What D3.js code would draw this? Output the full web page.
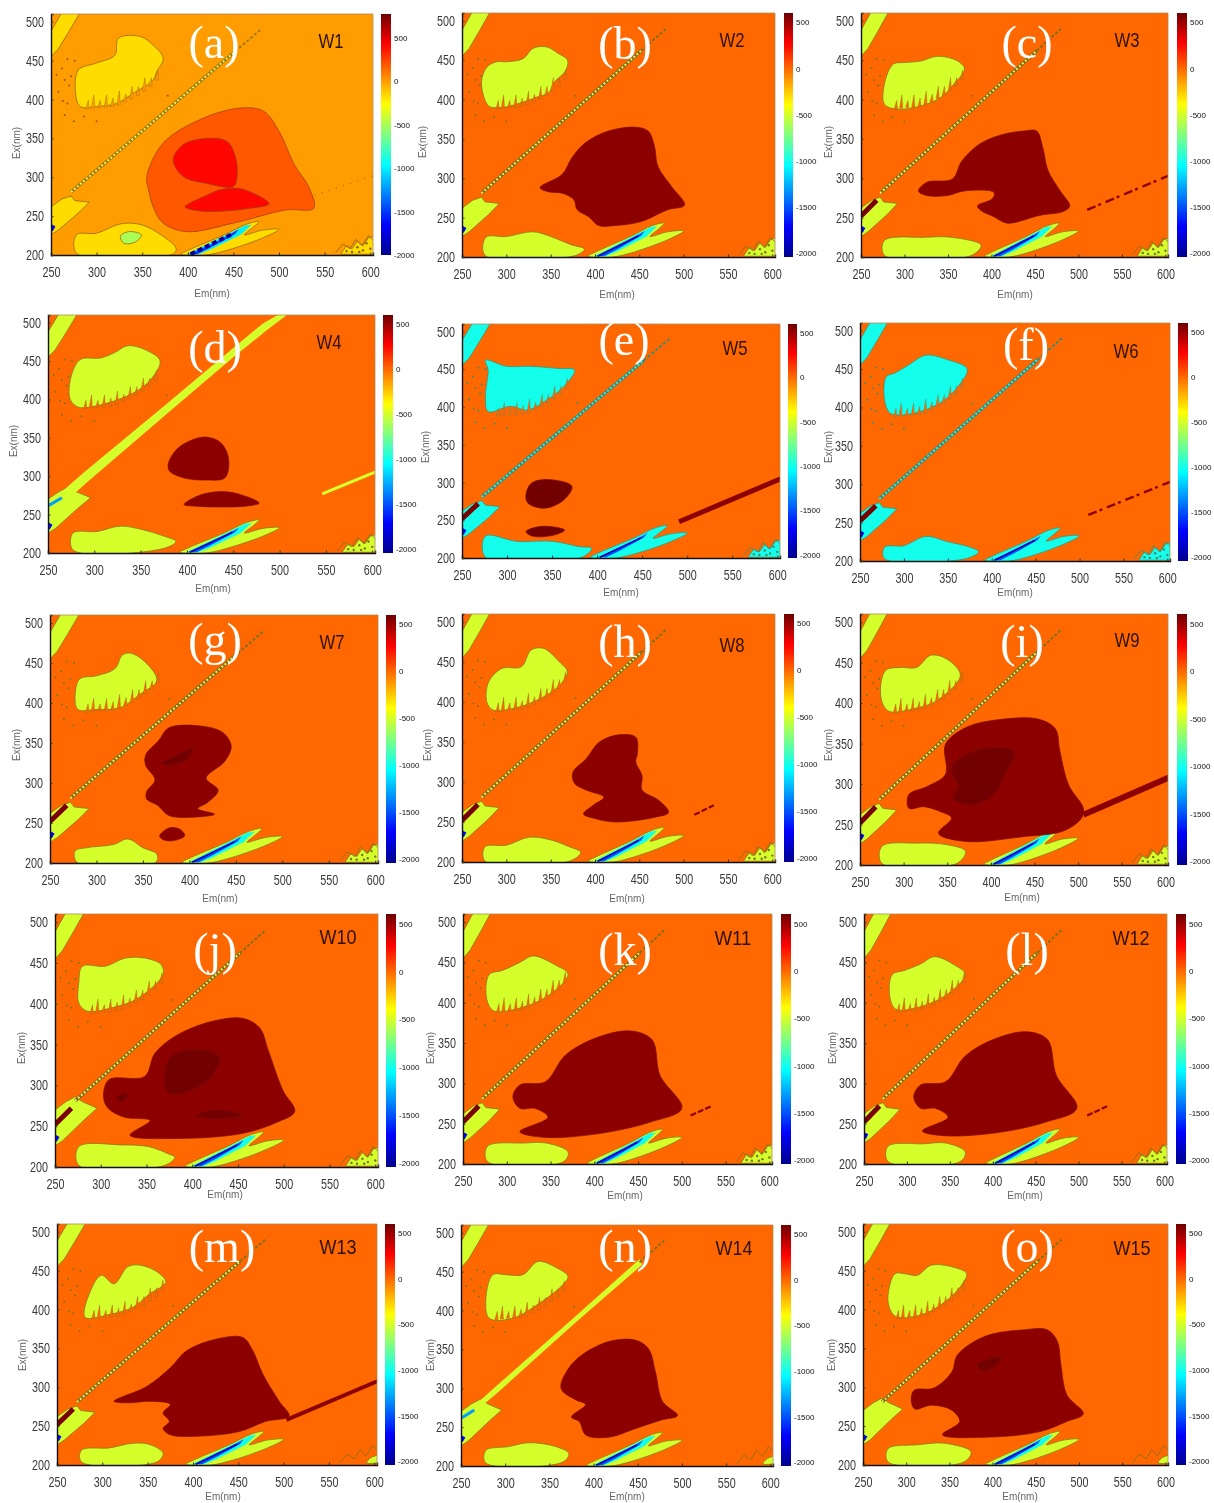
<!DOCTYPE html>
<html><head><meta charset="utf-8">
<script src="https://cdn.jsdelivr.net/npm/d3@7/dist/d3.min.js"></script>
<style>html,body{margin:0;background:#fff}svg{display:block;filter:blur(0.65px)}</style>
</head><body><svg id="c" width="1214" height="1503"></svg>
<script>
const xTicks=[250,300,350,400,450,500,550,600], yTicks=[200,250,300,350,400,450,500], cbTicks=[500,0,-500,-1000,-1500,-2000];
const jetStops=[0,.125,.375,.625,.875,1], jetColors=["#00008f","#0000ff","#00ffff","#ffff00","#ff0000","#6e0000"];
const names=["W1","W2","W3","W4","W5","W6","W7","W8","W9","W10","W11","W12","W13","W14","W15"];
const letters=["(a)","(b)","(c)","(d)","(e)","(f)","(g)","(h)","(i)","(j)","(k)","(l)","(m)","(n)","(o)"];
// Excitation/emission contours, each listed as [Em, Ex]
const upperW1=[[324,479],[348,481],[362,470],[373,453],[366,436],[362,425],[340,408],[322,395],[300,391],[282,391],[277,408],[280,438],[300,447],[320,457]];
const upperW2=[[278,441],[272,422],[280,392],[293,390],[308,393],[334,403],[348,409],[354,422],[367,437],[369,450],[358,459],[345,467],[330,465],[319,452],[300,448],[289,448]];
const upperW3=[[287,445],[277,420],[277,394],[291,388],[319,392],[342,403],[357,420],[369,439],[361,449],[338,455],[319,449],[300,447]];
const upperW4=[[285,452],[275,430],[274,400],[283,390],[307,393],[343,409],[361,426],[371,450],[358,463],[336,470],[322,461],[307,454]];
const upperW5=[[276,462],[279,449],[276,414],[279,394],[304,401],[323,396],[345,410],[363,427],[375,449],[358,451],[325,454],[299,454]];
const upperW6=[[280,440],[278,410],[285,392],[310,392],[340,405],[360,425],[372,450],[350,462],[325,468],[305,455],[290,445]];
const upperW7=[[282,430],[277,407],[280,392],[300,392],[325,394],[347,411],[365,428],[356,447],[338,462],[328,460],[320,443],[300,434]];
const upperW8=[[280,425],[278,400],[285,390],[308,392],[334,402],[356,417],[369,437],[360,450],[342,467],[328,465],[317,444],[295,442]];
const upperW9=[[279,440],[274,407],[283,390],[315,394],[338,403],[365,434],[350,454],[331,459],[315,444],[296,444]];
const upperW10=[[280,446],[276,425],[276,401],[285,391],[312,395],[341,407],[368,436],[366,448],[348,456],[327,456],[305,446]];
const upperW11=[[280,435],[277,405],[285,390],[310,392],[345,407],[370,435],[355,447],[330,458],[315,450],[295,440]];
const upperW12=[[283,435],[280,408],[287,392],[312,394],[345,409],[368,435],[355,447],[332,457],[316,448],[297,440]];
const upperW13=[[287,424],[281,390],[309,394],[334,403],[352,420],[370,435],[361,448],[342,457],[328,455],[313,433],[299,444]];
const upperW14=[[286,446],[278,412],[282,390],[308,390],[342,412],[365,433],[371,444],[358,455],[337,463],[320,446],[301,446]];
const upperW15=[[287,446],[279,410],[288,391],[317,393],[340,406],[361,427],[370,446],[359,453],[329,457],[313,444],[298,446]];
const lowerW1=[[278,226],[300,228],[326,240],[349,239],[373,224],[387,209],[385,202],[278,202]];
const lowerW1Inner=[[326,224],[335,230],[349,226],[343,217],[330,215]];
const lowerW2=[[277,225],[300,226],[330,232],[350,226],[372,216],[388,210],[378,202],[276,202]];
const lowerW3=[[277,221],[323,225],[354,225],[388,215],[377,202],[277,202]];
const lowerW4=[[277,226],[303,228],[328,235],[353,230],[375,222],[388,215],[375,206],[277,204]];
const lowerW5=[[276,229],[311,222],[351,222],[380,215],[394,213],[383,201],[276,201]];
const lowerW6=[[278,218],[300,220],[325,232],[350,225],[375,218],[385,212],[370,203],[278,203]];
const lowerW7=[[277,215],[289,219],[318,223],[334,230],[350,219],[365,211],[364,201],[279,201]];
const lowerW8=[[276,219],[300,221],[326,231],[352,227],[371,219],[384,212],[371,201],[276,201]];
const lowerW9=[[275,223],[315,227],[350,225],[371,217],[361,202],[275,202]];
const lowerW10=[[276,225],[323,227],[352,225],[374,216],[381,212],[370,202],[276,202]];
const lowerW11=[[278,222],[320,226],[345,226],[370,215],[365,203],[278,203]];
const lowerW12=[[278,222],[320,225],[345,226],[368,215],[362,203],[278,203]];
const lowerW13=[[277,219],[308,222],[334,228],[353,226],[367,215],[360,204],[277,204]];
const lowerW14=[[278,220],[304,225],[327,230],[357,225],[372,216],[365,205],[278,204]];
const lowerW15=[[279,221],[313,226],[344,228],[375,217],[367,204],[279,204]];
const coreW1a=[[355,301],[373,344],[413,374],[457,389],[483,385],[501,357],[516,318],[534,284],[538,260],[508,258],[450,241],[399,230],[373,241],[362,262],[357,284]];
const coreW1b=[[384,322],[395,342],[421,350],[443,346],[452,327],[454,301],[450,288],[421,292],[395,301]];
const coreW1c=[[397,262],[421,277],[436,284],[459,285],[489,266],[468,260],[428,256],[406,258]];
const coreW2=[[338,288],[363,305],[374,326],[389,345],[415,360],[445,365],[460,360],[467,341],[471,315],[486,290],[501,266],[482,260],[452,245],[423,240],[404,240],[393,251],[380,260],[376,273],[363,281],[347,283]];
const coreW3=[[316,284],[326,295],[355,299],[366,322],[387,344],[414,356],[437,360],[452,360],[459,339],[465,310],[479,284],[490,265],[483,258],[456,253],[418,243],[403,251],[388,259],[384,265],[401,274],[403,282],[369,284],[349,278],[326,278]];
const coreW4a=[[380,317],[389,335],[403,346],[421,351],[437,343],[445,322],[441,298],[421,295],[396,298],[381,307]];
const coreW4b=[[397,263],[411,274],[436,280],[458,276],[478,265],[463,261],[431,260],[410,261]];
const coreW5a=[[321,284],[327,299],[344,304],[372,295],[363,277],[342,266],[323,273]];
const coreW5b=[[321,235],[339,242],[364,237],[351,230],[328,229]];
const coreW7a=[[353,335],[367,353],[378,369],[414,371],[436,363],[445,346],[438,327],[418,306],[431,291],[420,276],[409,268],[427,261],[391,257],[377,260],[366,272],[354,280],[354,289],[363,304],[353,322]];
const coreW7b=[[368,234],[379,244],[390,242],[395,234],[383,228],[372,229]];
const deepW7=[[370,325],[390,337],[404,344],[397,329],[379,322]];
const coreW8=[[375,312],[390,329],[405,350],[427,359],[446,356],[448,337],[446,325],[453,308],[453,290],[472,277],[483,262],[468,256],[423,250],[401,254],[387,260],[398,271],[410,281],[390,290],[377,298]];
const coreW9=[[306,270],[306,287],[327,297],[348,312],[348,349],[372,370],[413,380],[455,380],[474,368],[479,341],[489,299],[506,270],[504,258],[483,242],[437,235],[372,229],[340,239],[355,258],[342,266],[323,272]];
const deepW9=[[355,320],[372,337],[406,345],[427,339],[414,308],[408,293],[393,279],[374,274],[356,283],[363,297],[357,309]];
const coreW10=[[303,286],[309,307],[348,311],[359,339],[381,360],[420,378],[456,382],[474,370],[483,343],[499,294],[512,268],[493,255],[454,241],[385,235],[332,239],[354,257],[326,261],[308,272]];
const deepW10a=[[370,315],[377,335],[402,344],[430,335],[421,311],[399,294],[374,290]];
const deepW10b=[[318,284],[324,291],[330,288],[321,280]];
const deepW10c=[[404,263],[429,270],[455,263],[429,259]];
const coreW11=[[307,283],[315,298],[344,302],[367,335],[401,356],[441,365],[466,354],[475,310],[500,269],[464,252],[407,238],[344,233],[315,240],[347,258],[332,269],[315,269]];
const coreW12=[[308,283],[316,298],[345,302],[368,334],[402,355],[440,364],[464,354],[474,310],[498,269],[462,252],[406,239],[345,235],[318,241],[348,258],[333,269],[316,269]];
const coreW13=[[313,282],[349,301],[375,325],[393,347],[426,362],[455,364],[466,347],[477,317],[495,282],[506,263],[480,256],[451,243],[404,237],[375,239],[367,247],[374,256],[367,267],[375,278],[352,282],[330,280]];
const coreW14=[[363,304],[372,326],[387,343],[417,360],[447,362],[462,351],[470,321],[478,283],[495,265],[476,259],[447,248],[417,237],[391,240],[384,257],[375,263],[391,279],[380,285],[365,296]];
const coreW15=[[306,281],[309,296],[332,299],[353,320],[359,341],[390,365],[437,374],[463,374],[475,359],[479,329],[486,290],[505,266],[486,256],[455,243],[398,236],[342,239],[362,256],[352,271],[329,277],[310,272]];
const deepW15=[[382,329],[394,336],[410,339],[402,326],[387,322]];
// Features shared between panels
const topStrip=[[250,455],[250,488],[262,512],[282,512],[270,488],[258,465]];
const leftPatch=[[250,226],[250,262],[262,272],[272,276],[276,270],[292,268],[280,254],[258,232]];
const leftBroad=[[250,226],[250,270],[262,280],[272,286],[280,280],[296,272],[282,258],[258,232]];
const lensOuter=[[392,201],[402,207],[440,226],[465,240],[478,243],[472,236],[462,226],[482,232],[500,233],[480,221],[440,205],[420,200],[396,200]];
const lensCyan=[[399,201],[430,219],[463,238],[470,239],[458,226],[425,207],[412,201]];
const lensBlue=[[401,201],[430,216],[456,233],[452,227],[424,209],[410,201]];
const lensNavy=[[403,201],[449,227]];
const diagonal=[[272,281],[452,462]], diagonalTail=[[452,462],[480,490]], leftStreak=[[250,252],[268,272]], bandBlue=[[251,262],[265,272]];
const diagBandW4=[[250,264],[290,306],[378,394],[450,467],[482,499],[504,514],[510,512],[486,490],[450,455],[378,381],[290,290],[270,268]];
const diagBandW14=[[250,262],[290,303],[378,391],[452,466],[455,459],[378,383],[290,293],[268,272]];
const noiseLarge=[[568,202],[574,212],[580,208],[586,218],[592,212],[598,222],[604,224],[604,201],[568,201]];
const noiseSmall=[[592,205],[597,210],[604,213],[604,202],[592,202]];
const noiseTrace=[[562,203],[570,214],[578,208],[584,220],[591,212],[598,225],[604,218]];
const noiseHoles=[[574,205],[580,204],[586,210],[592,206],[596,215],[600,208],[588,204]];
const fringe=[[290,391,8],[296,392,14],[303,393,6],[310,393,13],[317,394,8],[324,396,15],[331,400,7],[338,404,13],[345,408,9],[352,414,14],[359,420,8],[366,428,10]];
const speckles=[[262,440],[265,425],[258,410],[268,395],[272,430],[265,380],[275,372],[286,378],[268,452],[256,432],[276,450],[263,398],[300,372],[378,405],[270,418]];
// Tail of the second-order line for each panel: start, end
const tailW1=[[500,262],[604,302]],tailW3=[[510,260],[603,303]],tailW4=[[546,277],[604,306]],tailW5=[[491,248],[604,305]],tailW8=[[512,259],[534,271]],tailW9=[[506,262],[604,308]],tailW11=[[510,260],[534,272]],tailW13=[[503,258],[604,308]];
// Panel frames: plot left, right, top, bottom, then colour-bar left and right
const frames=[[51,373,14,255,381,391],[462,775,13,257,784,793],[861,1168,13,257,1177,1187],[48,375,315,553,383,393],[462,780,324,558,788,797],[860,1170,323,561,1178,1188],[50,378,615,863,386,396],[462,775,614,862,784,794],[860,1168,614,865,1177,1187],[55,378,914,1167,386,396],[463,772,914,1164,781,791],[864,1167,914,1164,1176,1186],[57,377,1224,1465,385,395],[461,773,1225,1466,781,791],[863,1168,1224,1465,1176,1186]];
const letterAt=[[214,58],[625,59],[1027,58],[215,363],[624,355],[1026,360],[215,655],[625,657],[1022,657],[215,965],[625,965],[1027,965],[222,1262],[625,1262],[1027,1262]];
const titleAt=[[331,48],[732,47],[1127,47],[329,349],[735,355],[1126,358],[332,649],[732,652],[1127,647],[338,944],[733,945],[1131,945],[338,1254],[734,1255],[1132,1255]];
const emAt=[[212,294],[617,295],[1015,295],[213,589],[621,593],[1015,593],[220,899],[627,899],[1022,898],[225,1195],[625,1196],[1025,1196],[223,1497],[627,1497],[1020,1497]];
const exAt=[[17,143],[423,142],[829,142],[14,441],[426,447],[829,447],[17,745],[428,745],[829,745],[22,1048],[431,1048],[833,1048],[23,1355],[431,1355],[832,1355]];
const uppers=[upperW1,upperW2,upperW3,upperW4,upperW5,upperW6,upperW7,upperW8,upperW9,upperW10,upperW11,upperW12,upperW13,upperW14,upperW15];
const lowers=[lowerW1,lowerW2,lowerW3,lowerW4,lowerW5,lowerW6,lowerW7,lowerW8,lowerW9,lowerW10,lowerW11,lowerW12,lowerW13,lowerW14,lowerW15];
const core=530, deep=590;
const coresByPanel=[[[coreW1a,190],[coreW1b,410],[coreW1c,410]],[[coreW2,core]],[[coreW3,core]],[[coreW4a,core],[coreW4b,core]],[[coreW5a,deep],[coreW5b,deep]],[],[[coreW7a,core],[coreW7b,core],[deepW7,deep]],[[coreW8,core]],[[coreW9,core],[deepW9,deep]],[[coreW10,core],[deepW10a,deep],[deepW10b,deep],[deepW10c,deep]],[[coreW11,core]],[[coreW12,core]],[[coreW13,core]],[[coreW14,core]],[[coreW15,core],[deepW15,deep]]];
const tails=[[tailW1,"0.5 7",1.6],[],[tailW3,"9 3 3 5",2.4],[tailW4,"",3],[tailW5,"",5],[tailW3,"9 3 3 5",2.4],[],[tailW8,"6 2",2.2],[tailW9,"",6],[],[tailW11,"6 2",2.2],[tailW11,"6 2",2.2],[tailW13,"",4],[],[]];
const streakPanels=[0,0,1,0,1,1,1,1,1,1,1,1,1,0,0], patchValue=[-170,-500,-500,-500,-1000,-1000,-500,-500,-500,-500,-500,-500,-500,-500,-500];
const smallNoise=[0,0,0,0,0,0,0,0,0,0,0,0,1,1,1], broad=[0,0,0,1,0,0,0,0,0,1,0,0,0,1,1];

const svg=d3.select("#c"), defs=svg.append("defs");
const jet=d3.scaleLinear().domain(jetStops).range(jetColors).clamp(true);
const grad=defs.append("linearGradient").attr("id","jet").attr("x1",0).attr("x2",0).attr("y1",1).attr("y2",0);
jetStops.forEach((s,i)=>grad.append("stop").attr("offset",s).attr("stop-color",jetColors[i]));
const mono="'Liberation Sans',Arial,sans-serif";

names.forEach((name,i)=>{
  const [l,r,t,b,cl,cr]=frames[i];
  const lo=i===0?-2000:-2040, hi=i===0?775:600;
  const frac=d3.scaleLinear().domain([lo,hi]).range([0,1]);
  const col=v=>jet(frac(v));
  const x=d3.scaleLinear().domain([250,603]).range([l,r]);
  const y=d3.scaleLinear().domain([200,510]).range([b,t]);
  const g=svg.append("g");
  defs.append("clipPath").attr("id","clip"+i).append("rect").attr("x",l).attr("y",t).attr("width",r-l).attr("height",b-t);
  const plot=g.append("g").attr("clip-path",`url(#clip${i})`);
  const bg=col(0), low=col(patchValue[i]);
  const edge=i===0?"#8a5a10":(patchValue[i]===-1000?"#3f8a70":"#7f6f1c");
  plot.append("rect").attr("x",l).attr("y",t).attr("width",r-l).attr("height",b-t).attr("fill",bg);
  const linear=d3.line().x(d=>x(d[0])).y(d=>y(d[1])).curve(d3.curveLinearClosed);
  const smooth=d3.line().x(d=>x(d[0])).y(d=>y(d[1])).curve(d3.curveCatmullRomClosed.alpha(.5));
  const open=d3.line().x(d=>x(d[0])).y(d=>y(d[1]));
  const patch=(pts,fill,stroke,gen=smooth)=>plot.append("path").attr("d",gen(pts)).attr("fill",fill).attr("stroke",stroke).attr("stroke-width",.7);
  plot.selectAll("circle.sp").data(speckles).join("circle").attr("cx",d=>x(d[0])).attr("cy",d=>y(d[1])).attr("r",1).attr("fill",edge);
  patch(topStrip,low,edge,linear);
  patch(broad[i]?leftBroad:leftPatch,low,edge,linear);
  if(i===3) patch(diagBandW4,low,"none",linear);
  if(i===13) patch(diagBandW14,low,"none",linear);
  if(i===3||i===13) plot.append("path").attr("d",open(bandBlue)).attr("stroke",col(-1300)).attr("stroke-width",3).attr("fill","none");
  patch(lowers[i],low,edge);
  if(i===0) patch(lowerW1Inner,col(-500),edge);
  patch(uppers[i],low,edge);
  fringe.forEach(f=>plot.append("path").attr("d",linear([[f[0]-1.8,f[1]-3],[f[0]+1,f[1]+f[2]],[f[0]+2,f[1]-3]])).attr("fill",bg).attr("stroke",edge).attr("stroke-width",.35));
  const diagCol=i===0?"#a17c10":edge;
  if(i!==3){
    if(i!==13){
      plot.append("path").attr("d",open(diagonal)).attr("stroke",diagCol).attr("stroke-width",3.4).attr("fill","none");
      plot.append("path").attr("d",open(diagonal)).attr("stroke",patchValue[i]===-1000?"#40f0e0":"#f5f560").attr("stroke-width",2).attr("stroke-dasharray","1.8 2.2").attr("fill","none");
    }
    plot.append("path").attr("d",open(diagonalTail)).attr("stroke",diagCol).attr("stroke-width",2).attr("stroke-dasharray","3 2").attr("fill","none");
  }
  if(streakPanels[i]) plot.append("path").attr("d",open(leftStreak)).attr("stroke",col(570)).attr("stroke-width",5).attr("fill","none");
  plot.append("path").attr("d",open([[250,232],[253,238]])).attr("stroke",col(-1700)).attr("stroke-width",4).attr("fill","none");
  patch(lensOuter,low,edge);
  patch(lensCyan,col(-1000),"none",linear);
  patch(lensBlue,col(-1500),"none",linear);
  plot.append("path").attr("d",open(lensNavy)).attr("stroke",col(-1950)).attr("stroke-width",i===0?4:1.6).attr("stroke-dasharray",i===0?"5 3":"").attr("fill","none");
  patch(smallNoise[i]?noiseSmall:noiseLarge,low,edge,linear);
  plot.append("path").attr("d",open(noiseTrace)).attr("stroke",edge).attr("stroke-width",.8).attr("fill","none");
  if(!smallNoise[i]) plot.selectAll("circle.nh").data(noiseHoles).join("circle").attr("cx",d=>x(d[0])).attr("cy",d=>y(d[1])).attr("r",1.2).attr("fill",edge);
  if(tails[i].length){
    plot.append("path").attr("d",open(tails[i][0])).attr("stroke",i===0?"#8a3a10":i===3?low:col(core)).attr("stroke-width",tails[i][2]).attr("stroke-dasharray",tails[i][1]).attr("fill","none");
  }
  coresByPanel[i].forEach(c=>patch(c[0],col(c[1]),i===0?"#9a3a10":"#7a0a05"));
  const ax=g.append("g").attr("transform",`translate(0,${b})`).call(d3.axisBottom(x).tickValues(xTicks).tickSize(-2.5).tickPadding(12));
  const ay=g.append("g").attr("transform",`translate(${l},0)`).call(d3.axisLeft(y).tickValues(yTicks).tickSize(-2.5).tickPadding(7));
  [ax,ay].forEach(a=>{a.selectAll("text").attr("font-family",mono).attr("font-size",14).attr("fill","#3a3a3a").attr("textLength",18).attr("lengthAdjust","spacingAndGlyphs");a.select(".domain").attr("stroke","#111").attr("stroke-width",1.4);a.selectAll("line").attr("stroke","#333")});
  g.append("path").attr("d",`M${l},${t}H${r}V${b}`).attr("fill","none").attr("stroke","#b08a50").attr("stroke-width",.8);
  g.append("text").attr("x",emAt[i][0]).attr("y",emAt[i][1]+3).attr("text-anchor","middle").attr("font-family",mono).attr("font-size",10).attr("fill","#666").text("Em(nm)");
  g.append("text").attr("transform",`translate(${exAt[i][0]+3},${exAt[i][1]}) rotate(-90)`).attr("text-anchor","middle").attr("font-family",mono).attr("font-size",10).attr("fill","#666").text("Ex(nm)");
  g.append("text").attr("x",titleAt[i][0]).attr("y",titleAt[i][1]).attr("text-anchor","middle").attr("font-family",mono).attr("font-size",21).attr("textLength",name.length>2?37:25).attr("lengthAdjust","spacingAndGlyphs").attr("fill","#2a1200").text(name);
  g.append("text").attr("x",letterAt[i][0]).attr("y",letterAt[i][1]).attr("text-anchor","middle").attr("font-family","'Liberation Serif',serif").attr("font-size",46).attr("fill","#fff").text(letters[i]);
  const cy=d3.scaleLinear().domain([lo,hi]).range([b,t]);
  g.append("rect").attr("x",cl).attr("y",t).attr("width",cr-cl).attr("height",b-t).attr("fill","url(#jet)");
  const cax=g.append("g").attr("transform",`translate(${cr},0)`).call(d3.axisRight(cy).tickValues(cbTicks).tickSize(0).tickPadding(3).tickFormat(d=>String(d)));
  cax.select(".domain").remove();
  cax.selectAll("text").attr("font-family",mono).attr("font-size",8).attr("fill","#111");
});
</script></body></html>
